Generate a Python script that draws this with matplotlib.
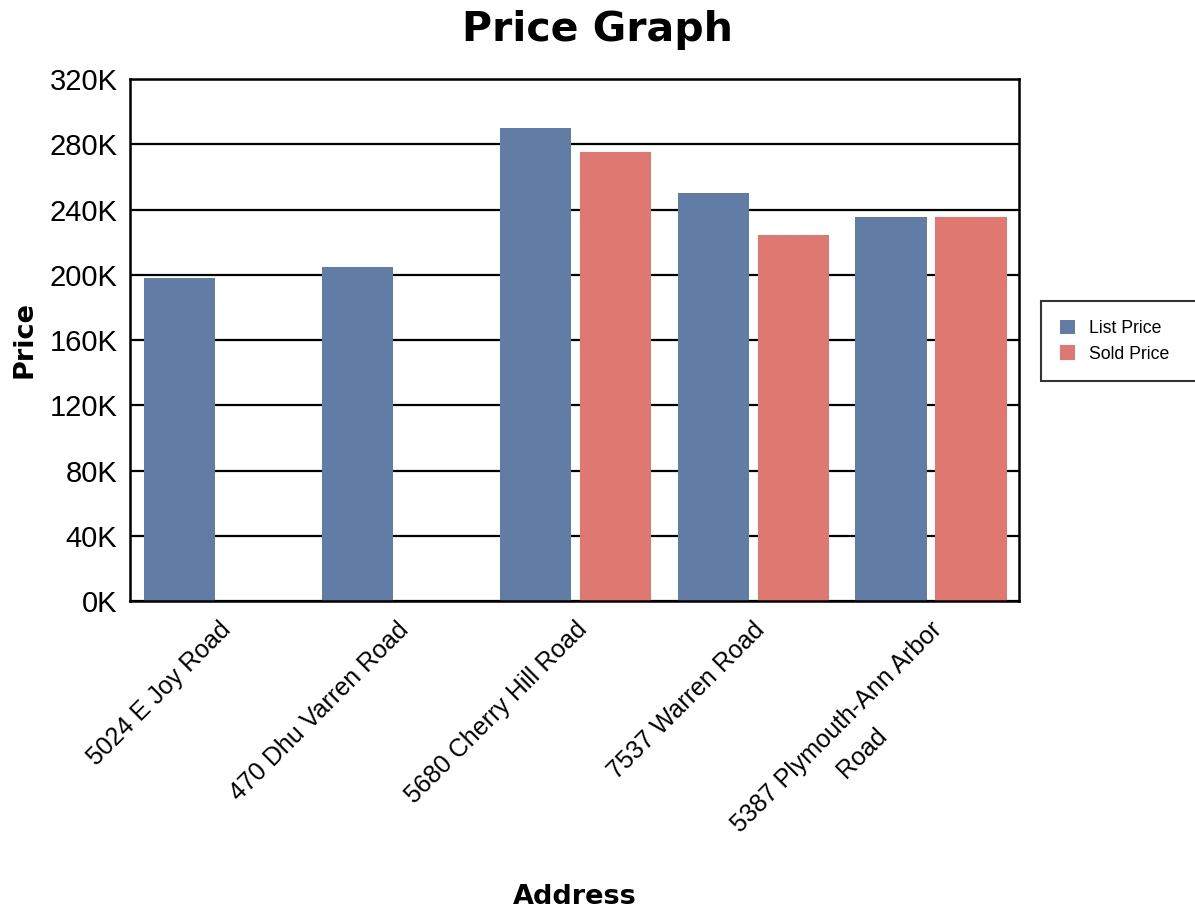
import numpy as np
import matplotlib
matplotlib.use("Agg")
import matplotlib.pyplot as plt

addresses = [
    "5024 E Joy Road",
    "470 Dhu Varren Road",
    "5680 Cherry Hill Road",
    "7537 Warren Road",
    "5387 Plymouth-Ann Arbor\nRoad",
]
list_price = [198000, 205000, 290000, 250000, 235500]
sold_price = [np.nan, np.nan, 275000, 224500, 235500]
y_ticks = [0, 40000, 80000, 120000, 160000, 200000, 240000, 280000, 320000]
y_tick_labels = ["0K", "40K", "80K", "120K", "160K", "200K", "240K", "280K", "320K"]

blue = "#627DA5"
red = "#E07872"

fig = plt.figure(figsize=(11.95, 9.13), dpi=100)
ax = fig.add_axes([130 / 1195, 1 - 601 / 913, 889 / 1195, 522 / 913])

x = np.arange(len(addresses))
ax.bar(x - 0.22, list_price, width=0.4, color=blue, label="List Price")
ax.bar(x + 0.23, sold_price, width=0.4, color=red, label="Sold Price")

ax.set_xlim(-0.5, len(addresses) - 0.5)
ax.set_ylim(0, 320000)
ax.set_yticks(y_ticks)
ax.set_yticklabels(y_tick_labels, fontfamily="Liberation Sans", fontsize=21)
ax.set_xticks(x)
ax.set_xticklabels(addresses, fontfamily="Liberation Sans", fontsize=18,
                   rotation=45, ha="right", va="top", rotation_mode="anchor",
                   multialignment="center", linespacing=1.6)
ax.tick_params(axis="both", length=0)
ax.tick_params(axis="y", pad=9)
ax.tick_params(axis="x", pad=12)

ax.set_axisbelow(True)
ax.yaxis.grid(True, color="black", linewidth=1.6)
for s in ax.spines.values():
    s.set_color("black")
    s.set_linewidth(1.8)

fig.suptitle("Price Graph", fontsize=29.5, fontweight="bold", fontfamily="DejaVu Sans",
             x=0.5, y=1 - 30 / 913, va="center")
fig.text(25 / 1195, 1 - 340 / 913, "Price", rotation=90, fontsize=19.5, fontweight="bold",
         fontfamily="DejaVu Sans", ha="center", va="center")
fig.text(575 / 1195, 1 - 897 / 913, "Address", fontsize=19.5, fontweight="bold",
         fontfamily="DejaVu Sans", ha="center", va="center")

leg = fig.legend(loc="upper left",
                 bbox_to_anchor=(1041 / 1195, 1 - 381 / 913, 200 / 1195, 80 / 913),
                 mode="expand", borderaxespad=0, fancybox=False, frameon=True,
                 prop={"family": "Liberation Sans", "size": 12.7},
                 handlelength=0.85, handleheight=0.85, handletextpad=0.8,
                 labelspacing=0.5, borderpad=1.05)
leg.get_frame().set_edgecolor("black")
leg.get_frame().set_linewidth(1.5)

fig.savefig("out.png", dpi=100)
